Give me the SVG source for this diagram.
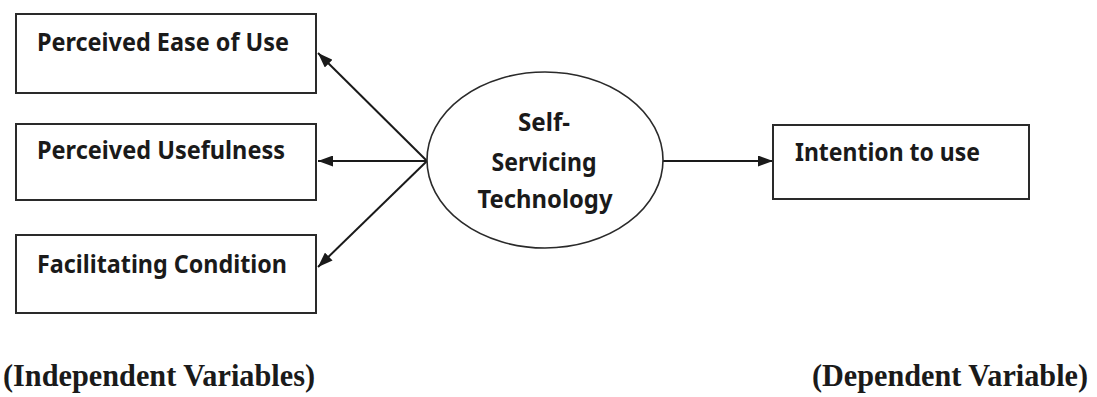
<svg xmlns="http://www.w3.org/2000/svg" width="1097" height="397" viewBox="0 0 1097 397">
  <style>
    .box { fill: #ffffff; stroke: #2a2a2a; stroke-width: 2; }
    .oval { fill: #ffffff; stroke: #2a2a2a; stroke-width: 1.6; }
    .lbl { font-family: "Noto Sans", "Open Sans", "Liberation Sans", sans-serif; font-weight: bold; font-size: 25px; fill: #1a1a1a; }
    .cap { font-family: "Liberation Serif", "DejaVu Serif", serif; font-weight: bold; font-size: 31px; fill: #1a1a1a; }
    .edge { stroke: #1a1a1a; stroke-width: 2; fill: none; marker-end: url(#head); }
  </style>
  <defs>
    <marker id="head" viewBox="0 0 15 11" refX="15" refY="5.5" markerWidth="15" markerHeight="11" markerUnits="userSpaceOnUse" orient="auto">
      <path d="M0,0 L15,5.5 L0,11 Z" fill="#1a1a1a"/>
    </marker>
  </defs>
  <rect width="1097" height="397" fill="#ffffff"/>

  <g id="connectors">
    <line class="edge" x1="427" y1="161" x2="318" y2="53"/>
    <line class="edge" x1="427" y1="161" x2="318" y2="161"/>
    <line class="edge" x1="427" y1="161" x2="318" y2="267"/>
    <line class="edge" x1="663" y1="161" x2="773" y2="161"/>
  </g>

  <g id="node-ease">
    <rect class="box" x="16" y="14" width="300" height="79"/>
    <text class="lbl" x="37" y="51" textLength="252" lengthAdjust="spacingAndGlyphs">Perceived Ease of Use</text>
  </g>

  <g id="node-usefulness">
    <rect class="box" x="16" y="124" width="300" height="76"/>
    <text class="lbl" x="37" y="159" textLength="248" lengthAdjust="spacingAndGlyphs">Perceived Usefulness</text>
  </g>

  <g id="node-facilitating">
    <rect class="box" x="16" y="235" width="300" height="78"/>
    <text class="lbl" x="37" y="273" textLength="250" lengthAdjust="spacingAndGlyphs">Facilitating Condition</text>
  </g>

  <g id="node-sst">
    <ellipse class="oval" cx="545" cy="160" rx="118" ry="88"/>
    <text class="lbl" x="544" y="131" text-anchor="middle" textLength="52" lengthAdjust="spacingAndGlyphs">Self-</text>
    <text class="lbl" x="544" y="171" text-anchor="middle" textLength="105" lengthAdjust="spacingAndGlyphs">Servicing</text>
    <text class="lbl" x="545" y="208" text-anchor="middle" textLength="135" lengthAdjust="spacingAndGlyphs">Technology</text>
  </g>

  <g id="node-intention">
    <rect class="box" x="773" y="125" width="256" height="74"/>
    <text class="lbl" x="795" y="161" textLength="185" lengthAdjust="spacingAndGlyphs">Intention to use</text>
  </g>

  <g id="captions">
    <text class="cap" x="3" y="386" textLength="312" lengthAdjust="spacingAndGlyphs">(Independent Variables)</text>
    <text class="cap" x="812" y="386" textLength="276" lengthAdjust="spacingAndGlyphs">(Dependent Variable)</text>
  </g>
</svg>
